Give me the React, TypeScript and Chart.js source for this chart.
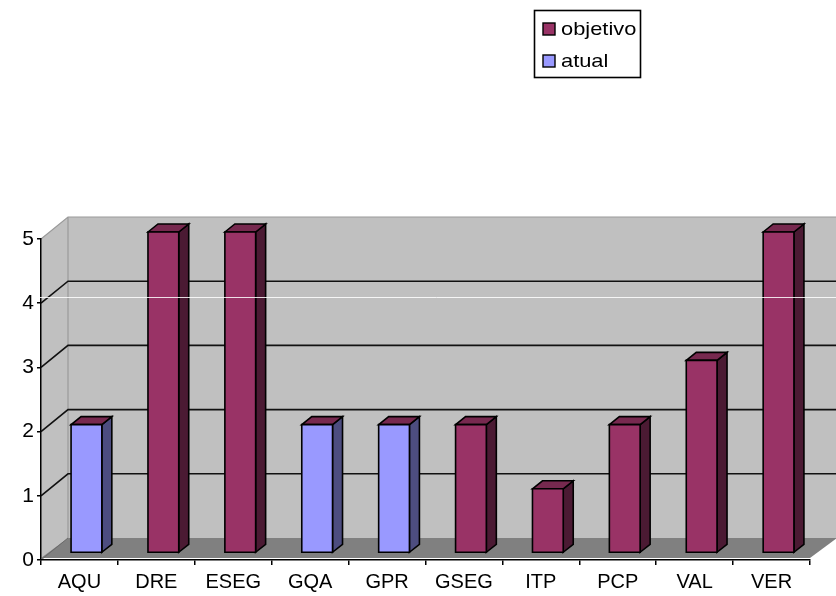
import React, { useEffect, useRef } from "react";
import { Chart, registerables } from "chart.js";

Chart.register(...registerables);

const categories = ["AQU", "DRE", "ESEG", "GQA", "GPR", "GSEG", "ITP", "PCP", "VAL", "VER"];
const objetivo: (number | null)[] = [null, 5, 5, null, null, 2, 1, 2, 3, 5];
const atual: (number | null)[] = [2, null, null, 2, 2, null, null, null, null, null];
const yMin = 0;
const yMax = 5;
const yStep = 1;
const legendLabels = ["objetivo", "atual"];

const FONT = '"Liberation Sans", Arial, sans-serif';
const OBJ_FRONT = "#993366";
const OBJ_SIDE = "#4b1a33";
const OBJ_TOP = "#77294f";
const AT_FRONT = "#9999ff";
const AT_SIDE = "#4d4d80";
const AT_TOP = "#77294f";

const WALL_DX = 27;
const WALL_DY = -22;

function drawBar(ctx: CanvasRenderingContext2D, x: number, top: number, base: number, w: number, front: string, side: string, topC: string) {
  const sx = 7, sy = -7, dx = 10, dy = -8;
  const l = x - w / 2 + sx;
  const r = x + w / 2 + sx;
  const t = top + sy;
  const b = base + sy;
  ctx.save();
  ctx.lineWidth = 1.6;
  ctx.strokeStyle = "#000";
  ctx.lineJoin = "miter";
  // side
  ctx.beginPath();
  ctx.moveTo(r, b);
  ctx.lineTo(r + dx, b + dy);
  ctx.lineTo(r + dx, t + dy);
  ctx.lineTo(r, t);
  ctx.closePath();
  ctx.fillStyle = side;
  ctx.fill();
  ctx.stroke();
  // top
  ctx.beginPath();
  ctx.moveTo(l, t);
  ctx.lineTo(l + dx, t + dy);
  ctx.lineTo(r + dx, t + dy);
  ctx.lineTo(r, t);
  ctx.closePath();
  ctx.fillStyle = topC;
  ctx.fill();
  ctx.stroke();
  // front
  ctx.beginPath();
  ctx.rect(l, t, r - l, b - t);
  ctx.fillStyle = front;
  ctx.fill();
  ctx.stroke();
  ctx.restore();
}

const wallsPlugin = {
  id: "walls3d",
  beforeDraw(chart: any) {
    const ctx: CanvasRenderingContext2D = chart.ctx;
    const ys = chart.scales.y;
    const { left, right } = chart.chartArea;
    const y0 = ys.getPixelForValue(yMin);
    const y5 = ys.getPixelForValue(yMax);
    ctx.save();
    ctx.fillStyle = "#fff";
    ctx.fillRect(0, 0, chart.width, chart.height);
    // left wall
    ctx.beginPath();
    ctx.moveTo(left, y5);
    ctx.lineTo(left + WALL_DX, y5 + WALL_DY);
    ctx.lineTo(left + WALL_DX, y0 + WALL_DY);
    ctx.lineTo(left, y0);
    ctx.closePath();
    ctx.fillStyle = "#c0c0c0";
    ctx.fill();
    // back wall
    ctx.fillStyle = "#c0c0c0";
    ctx.fillRect(left + WALL_DX, y5 + WALL_DY, right - left, y0 - y5);
    // floor
    ctx.beginPath();
    ctx.moveTo(left, y0 - 2);
    ctx.lineTo(right, y0 - 2);
    ctx.lineTo(right + WALL_DX, y0 + WALL_DY);
    ctx.lineTo(left + WALL_DX, y0 + WALL_DY);
    ctx.closePath();
    ctx.fillStyle = "#808080";
    ctx.fill();
    // wall edges (gray)
    ctx.strokeStyle = "#9a9a9a";
    ctx.lineWidth = 1.2;
    ctx.beginPath();
    ctx.moveTo(left, y5);
    ctx.lineTo(left + WALL_DX, y5 + WALL_DY);
    ctx.lineTo(right + WALL_DX, y5 + WALL_DY);
    ctx.moveTo(left + WALL_DX, y5 + WALL_DY);
    ctx.lineTo(left + WALL_DX, y0 + WALL_DY);
    ctx.stroke();
    // gridlines
    ctx.strokeStyle = "#111";
    ctx.lineWidth = 1.6;
    for (let v = yMin + yStep; v < yMax; v += yStep) {
      const y = ys.getPixelForValue(v);
      ctx.beginPath();
      ctx.moveTo(left, y);
      ctx.lineTo(left + WALL_DX, y + WALL_DY);
      ctx.lineTo(right + WALL_DX, y + WALL_DY);
      ctx.stroke();
    }
    // floor diagonal edge
    ctx.strokeStyle = "#6a6a6a";
    ctx.lineWidth = 1;
    ctx.beginPath();
    ctx.moveTo(left, y0);
    ctx.lineTo(left + WALL_DX, y0 + WALL_DY);
    ctx.stroke();
    ctx.restore();
  },
  afterDatasetsDraw(chart: any) {
    const ctx: CanvasRenderingContext2D = chart.ctx;
    const styles = [
      [OBJ_FRONT, OBJ_SIDE, OBJ_TOP],
      [AT_FRONT, AT_SIDE, AT_TOP],
    ];
    chart.data.datasets.forEach((ds: any, di: number) => {
      const meta = chart.getDatasetMeta(di);
      meta.data.forEach((el: any, i: number) => {
        const v = ds.data[i];
        if (v === null || v === undefined) return;
        const [f, s, t] = styles[di];
        drawBar(ctx, el.x, el.y, el.base, el.width, f, s, t);
      });
    });
  },
  afterDraw(chart: any) {
    const ctx: CanvasRenderingContext2D = chart.ctx;
    ctx.save();
    // scan artifact line
    ctx.strokeStyle = "rgba(255,255,255,0.85)";
    ctx.lineWidth = 1;
    ctx.beginPath();
    ctx.moveTo(37, 297.5);
    ctx.lineTo(836, 297.5);
    ctx.stroke();
    // legend
    ctx.fillStyle = "#fff";
    ctx.fillRect(534, 10, 107, 68);
    ctx.strokeStyle = "#000";
    ctx.lineWidth = 1.6;
    ctx.strokeRect(534.5, 10.5, 106, 67);
    const colors = [OBJ_FRONT, AT_FRONT];
    const ys = [29, 61];
    ctx.font = `19px ${FONT}`;
    ctx.textBaseline = "middle";
    ctx.textAlign = "left";
    legendLabels.forEach((lab, i) => {
      ctx.fillStyle = colors[i];
      ctx.fillRect(543, ys[i] - 6, 12, 12);
      ctx.lineWidth = 1.4;
      ctx.strokeStyle = "#000";
      ctx.strokeRect(543, ys[i] - 6, 12, 12);
      ctx.fillStyle = "#000";
      ctx.save();
      ctx.translate(561, ys[i] + 1);
      ctx.scale(1.15, 1);
      ctx.fillText(lab, 0, 0);
      ctx.restore();
    });
    ctx.restore();
  },
};

export default function App() {
  const ref = useRef<HTMLCanvasElement | null>(null);
  useEffect(() => {
    if (!ref.current) return;
    const chart = new Chart(ref.current, {
      type: "bar",
      data: {
        labels: categories,
        datasets: [
          { label: legendLabels[0], data: objetivo, backgroundColor: "rgba(0,0,0,0)", borderWidth: 0 },
          { label: legendLabels[1], data: atual, backgroundColor: "rgba(0,0,0,0)", borderWidth: 0 },
        ],
      },
      options: {
        responsive: false,
        animation: false,
        events: [],
        layout: { padding: { top: 239, right: 26, left: 0, bottom: 0 } },
        datasets: { bar: { barPercentage: 0.4, categoryPercentage: 1 } },
        plugins: { legend: { display: false }, tooltip: { enabled: false } },
        scales: {
          x: {
            stacked: true,
            offset: true,
            grid: { display: true, drawOnChartArea: false, drawTicks: true, tickLength: 5, offset: true, color: "#000", lineWidth: 1.5 },
            border: { display: true, color: "#000", width: 1.5 },
            ticks: { color: "#000", font: { family: FONT, size: 20 }, padding: 5, autoSkip: false, maxRotation: 0 },
            afterFit: (s: any) => { s.height = 36; },
          },
          y: {
            stacked: true,
            min: yMin,
            max: yMax,
            grid: { display: true, drawOnChartArea: false, drawTicks: true, tickLength: 4, color: "#000", lineWidth: 1.5 },
            border: { display: true, color: "#000", width: 1.5 },
            ticks: { stepSize: yStep, color: "#000", font: { family: FONT, size: 21 }, padding: 3 },
            afterFit: (s: any) => { s.width = 41; },
          },
        },
      },
      plugins: [wallsPlugin],
    });
    return () => chart.destroy();
  }, []);
  return (
    <div style={{ position: "absolute", left: 0, top: 0, width: 836, height: 596, background: "#fff" }}>
      <canvas ref={ref} width={836} height={596} style={{ display: "block" }} />
    </div>
  );
}
